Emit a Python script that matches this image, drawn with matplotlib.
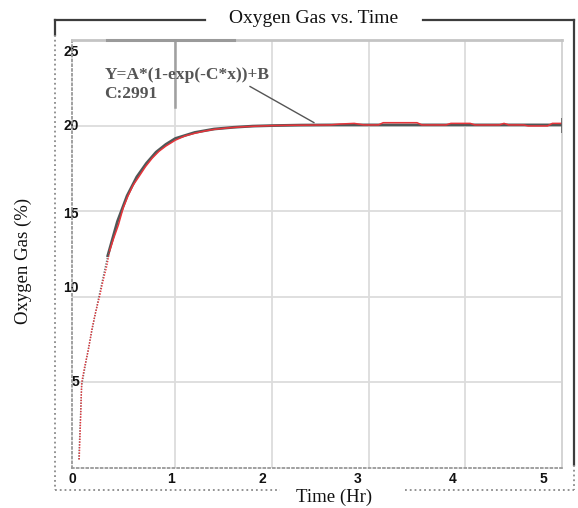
import matplotlib
matplotlib.use("Agg")
import matplotlib.pyplot as plt
from matplotlib.lines import Line2D

# ---- data ----
time_data = [0.005, 0.02, 0.03, 0.06, 0.10, 0.135, 0.17, 0.215, 0.25, 0.29, 0.32, 0.36,
             0.41, 0.46, 0.51, 0.56, 0.62, 0.69, 0.76, 0.83, 0.90, 1.0, 1.1, 1.2, 1.3,
             1.4, 1.55, 1.7, 1.85, 2.0, 2.2, 2.4, 2.6, 2.7, 2.85, 2.95, 3.1, 3.15, 3.5,
             3.55, 3.8, 3.85, 4.05, 4.1, 4.35, 4.4, 4.45, 4.6, 4.65, 4.85, 4.9, 5.0]
oxygen_data = [0.5, 3.0, 5.0, 5.9, 6.9, 8.1, 9.0, 10.0, 10.9, 11.8, 12.7, 13.4,
               14.2, 15.2, 15.9, 16.5, 17.0, 17.6, 18.1, 18.5, 18.8, 19.15, 19.4, 19.55, 19.68,
               19.78, 19.87, 19.93, 19.97, 20.0, 20.02, 20.03, 20.04, 20.09, 20.13, 20.04, 20.04, 20.17, 20.17,
               20.04, 20.04, 20.13, 20.13, 20.04, 20.04, 20.13, 20.04, 20.04, 19.98, 19.98, 20.13, 20.13]

time_fit = [0.0, 0.03, 0.1, 0.2, 0.3, 0.4, 0.5, 0.6, 0.7, 0.8, 0.9, 1.0, 1.2, 1.4,
            1.6, 1.8, 2.0, 2.3, 2.6, 3.0, 4.0, 5.0]
oxygen_fit = [0.5, 4.8, 7.0, 9.8, 12.4, 14.4, 15.9, 17.0, 17.8, 18.45, 18.9, 19.25, 19.6, 19.8,
              19.9, 19.97, 20.0, 20.03, 20.04, 20.04, 20.04, 20.04]

x_grid = [1, 2, 3, 4]
y_grid = [5, 10, 15, 20]
x_tick_pos = [-0.07, 0.95, 1.90, 2.89, 3.87, 4.81]
x_tick_labels = ["0", "1", "2", "3", "4", "5"]
y_tick_pos = [5.1, 10.6, 14.9, 20.05, 24.4]
y_tick_labels = ["5", "10", "15", "20", "25"]

title = "Oxygen Gas vs. Time"
xlabel = "Time (Hr)"
ylabel = "Oxygen Gas (%)"
fit_text = "Y=A*(1-exp(-C*x))+B\nC:2991"

W, H = 578, 508
fig = plt.figure(figsize=(W / 100, H / 100), dpi=100)
fig.patch.set_facecolor("white")

# overlay for outer frame (pixel coordinates)
ov = fig.add_axes([0, 0, 1, 1], zorder=0)
ov.set_xlim(0, W)
ov.set_ylim(H, 0)
ov.axis("off")
dark = "#3c3c3c"
dot = "#8a8a8a"
for (xs, ys, ls, c, lw) in [
    ((55, 205), (20, 20), "-", dark, 1.6),
    ((423, 574), (20, 20), "-", dark, 1.6),
    ((574, 574), (20, 465), "-", dark, 1.6),
    ((574, 574), (465, 490), ":", dot, 1.3),
    ((55, 55), (20, 35), "-", dark, 1.6),
    ((55, 55), (35, 490), ":", dot, 1.3),
    ((55, 280), (490, 490), ":", dot, 1.3),
    ((405, 574), (490, 490), ":", dot, 1.3),
]:
    ov.add_line(Line2D(xs, ys, linestyle=ls, color=c, linewidth=lw))

L, R, T, B = 72, 562, 40, 468
ax = fig.add_axes([L / W, (H - B) / H, (R - L) / W, (B - T) / H], zorder=1)
ax.set_facecolor("white")
ax.set_xlim(0, 5)
ax.set_ylim(0, 25)

# grid
for g in x_grid:
    ax.axvline(g, color="#dcdcdc", linewidth=1.3, zorder=1)
for g in y_grid:
    ax.axhline(g, color="#dcdcdc", linewidth=1.3, zorder=1)

# spines
ax.spines["left"].set_linestyle(":")
ax.spines["left"].set_color("#999999")
ax.spines["left"].set_linewidth(1.3)
ax.spines["bottom"].set_linestyle(":")
ax.spines["bottom"].set_color("#999999")
ax.spines["bottom"].set_linewidth(1.3)
ax.spines["top"].set_color("#c4c4c4")
ax.spines["top"].set_linewidth(2)
ax.spines["right"].set_color("#d4d4d4")
ax.spines["right"].set_linewidth(1.4)

# annotation box edges (darker)
ax.plot([0.29, 1.61], [25, 25], color="#9a9a9a", linewidth=2.2, clip_on=False, zorder=3)
ax.plot([1, 1], [21.1, 25], color="#a0a0a0", linewidth=1.8, zorder=2)

# curves: sparse lower part drawn dotted, the rest solid
n_fit_low = 4
n_dat_low = 10
ax.plot(time_fit[:n_fit_low + 1], oxygen_fit[:n_fit_low + 1], color="#707878",
        linewidth=1.0, linestyle=(0, (1, 1)), zorder=3)
ax.plot(time_fit[n_fit_low:], oxygen_fit[n_fit_low:], color="#505858", linewidth=2.0, zorder=3)
ax.plot(time_data[:n_dat_low + 1], oxygen_data[:n_dat_low + 1], color="#e8343a",
        linewidth=1.0, linestyle=(0, (1, 1)), zorder=4)
ax.plot(time_data[n_dat_low:], oxygen_data[n_dat_low:], color="#e8343a", linewidth=1.1, zorder=4)
ax.vlines(time_data[-1], oxygen_data[-1] - 0.55, oxygen_data[-1] + 0.3,
          color="#606060", linewidth=1.2, zorder=4)

# annotation
ax.text(0.265, 22.4, fit_text, family="Liberation Serif", fontweight="bold",
        fontsize=12.5, color="#555555", va="center", ha="left", linespacing=1.25, zorder=5)
ax.annotate("", xy=(2.46, 20.09), xytext=(1.745, 22.37),
            arrowprops=dict(arrowstyle="-", color="#555555", linewidth=1.0), zorder=5)

# ticks
ax.set_xticks(x_tick_pos)
ax.set_xticklabels(x_tick_labels)
ax.set_yticks(y_tick_pos)
ax.set_yticklabels(y_tick_labels)
ax.tick_params(axis="both", length=0, labelsize=10, labelcolor="#111111")
ax.tick_params(axis="x", pad=3)
ax.tick_params(axis="y", pad=-5)
for lab in ax.get_xticklabels() + ax.get_yticklabels():
    lab.set_fontweight("bold")
    lab.set_family("Liberation Sans")

# labels
ax.set_title(title, family="Liberation Serif", fontsize=14, x=0.494, y=1.051,
             va="center", color="#111111", pad=0)
ax.set_xlabel(xlabel, family="Liberation Serif", fontsize=13.5, va="center", color="#111111")
ax.xaxis.set_label_coords(0.535, -0.068)
ax.set_ylabel(ylabel, family="Liberation Serif", fontsize=13.5, va="center", color="#111111")
ax.yaxis.set_label_coords(-0.1, 0.484)

fig.savefig("out.png", dpi=100, facecolor="white")
